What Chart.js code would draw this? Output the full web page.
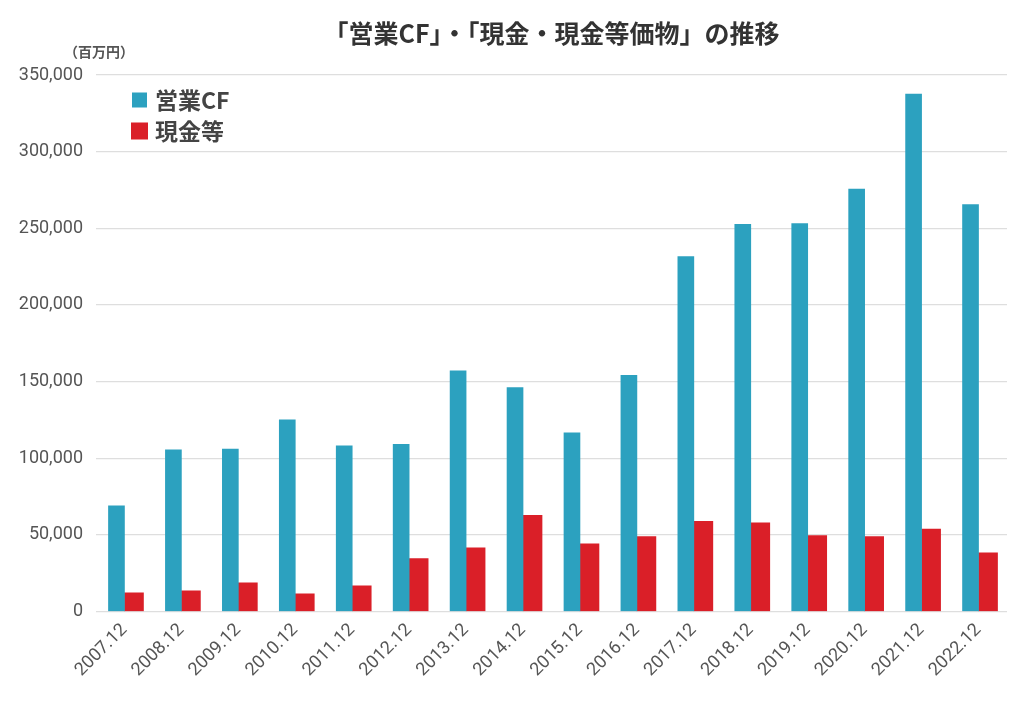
<!DOCTYPE html>
<html>
<head>
<meta charset="utf-8">
<script src="https://cdn.jsdelivr.net/npm/chart.js@4"></script>
<style>
html,body{margin:0;padding:0;background:#fff;}
#wrap{width:1024px;height:709px;position:relative;}
</style>
</head>
<body>
<div id="wrap"><canvas id="c" width="1024" height="709"></canvas></div>
<script>
const categories = ["2007.12","2008.12","2009.12","2010.12","2011.12","2012.12","2013.12","2014.12","2015.12","2016.12","2017.12","2018.12","2019.12","2020.12","2021.12","2022.12"];
const operatingCF = [69000,105500,106000,125000,108000,109000,157000,146000,116500,154000,231500,252500,253000,275500,337500,265500];
const cashEquivalents = [12200,13500,18700,11500,16800,34600,41600,62800,44100,48900,58900,57800,49500,48900,53700,38200];
const seriesLabels = ["営業CF","現金等"];
const yTicks = [0,50000,100000,150000,200000,250000,300000,350000];
const titleText = "「営業CF」・「現金・現金等価物」の推移";
const unitText = "（百万円）";

const BLUE = "#2ca1bf";
const RED = "#da1f28";
const FONT = "Roboto, 'Noto Sans CJK JP', sans-serif";
const JFONT = "'Noto Sans CJK JP', sans-serif";

const overlay = {
  id: "overlay",
  afterDraw(chart) {
    const ctx = chart.ctx;
    const ca = chart.chartArea;
    ctx.save();
    // title
    ctx.fillStyle = "#333";
    ctx.font = "bold 25px " + JFONT;
    ctx.textAlign = "center";
    ctx.textBaseline = "middle";
    ctx.fillText(titleText, (ca.left + ca.right) / 2, 33);
    // unit
    ctx.fillStyle = "#555";
    ctx.font = "bold 14px " + JFONT;
    ctx.textAlign = "left";
    ctx.fillText(unitText, 64, 52);
    // legend
    const ds = chart.data.datasets;
    const ys = [100, 131];
    ds.forEach((d, i) => {
      ctx.fillStyle = d.backgroundColor;
      const s = i === 0 ? 15 : 17;
      ctx.fillRect(131 + (i === 0 ? 1 : 0), ys[i] - s / 2, s, s);
      ctx.fillStyle = "#444";
      ctx.font = "bold 23px " + JFONT;
      ctx.textAlign = "left";
      ctx.textBaseline = "middle";
      ctx.fillText(d.label, 155, ys[i]);
    });
    ctx.restore();
  }
};

new Chart(document.getElementById("c"), {
  type: "bar",
  data: {
    labels: categories,
    datasets: [
      { label: seriesLabels[0], data: operatingCF, backgroundColor: BLUE, barThickness: 16 },
      { label: seriesLabels[1], data: cashEquivalents, backgroundColor: RED, barThickness: 19 }
    ]
  },
  options: {
    responsive: false,
    animation: false,
    layout: { padding: { left: 0, right: 17, top: 75, bottom: 0 } },
    plugins: {
      legend: { display: false },
      title: { display: false },
      tooltip: { enabled: false }
    },
    scales: {
      x: {
        grid: { display: false, drawTicks: false },
        border: { display: false },
        ticks: {
          color: "#555",
          font: { family: FONT, size: 18 },
          maxRotation: 45,
          minRotation: 45,
          padding: 8,
          autoSkip: false
        },
        afterFit(scale) { scale.height = 97.5; }
      },
      y: {
        min: 0,
        max: 350000,
        afterBuildTicks(scale) { scale.ticks = yTicks.map(v => ({ value: v })); },
        grid: { color: "#dedede", lineWidth: 1.3, drawTicks: false },
        border: { display: false },
        ticks: {
          color: "#555",
          font: { family: FONT, size: 18 },
          padding: 13,
          callback: v => v.toLocaleString("en-US")
        },
        afterFit(scale) { scale.width = 96; }
      }
    }
  },
  plugins: [overlay]
});
</script>
</body>
</html>
